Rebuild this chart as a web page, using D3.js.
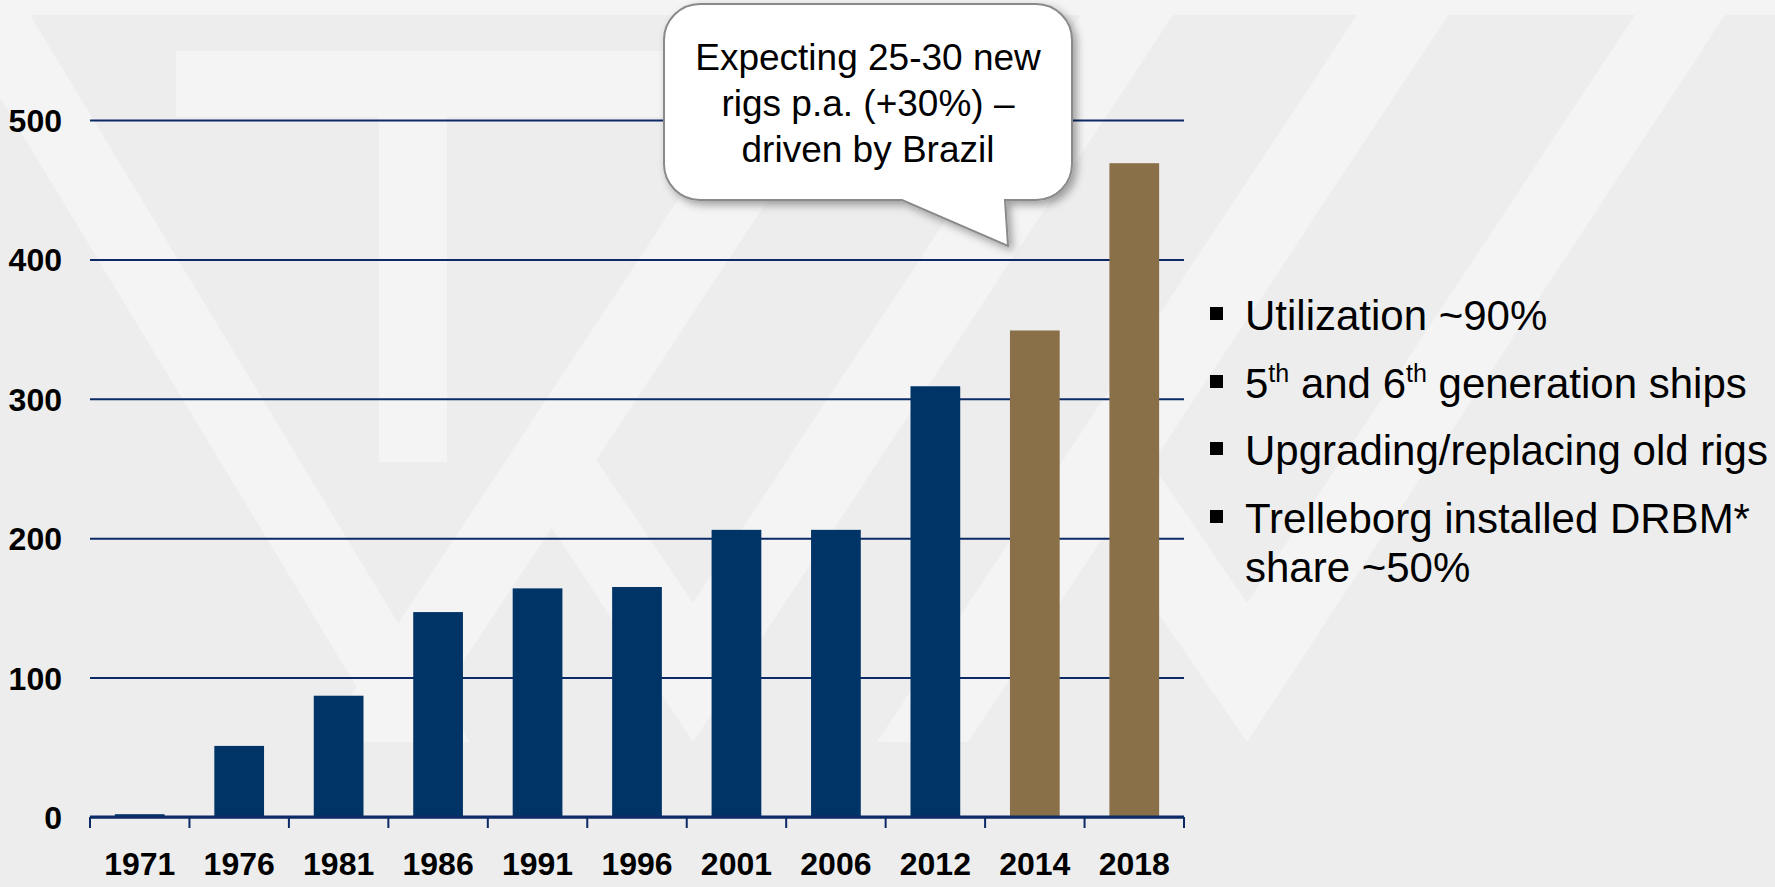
<!DOCTYPE html>
<html lang="en">
<head>
    <meta charset="UTF-8">
    <title>Rigs chart</title>
    <script src="https://cdn.jsdelivr.net/npm/d3@7"></script>
    <style>
        body { margin: 0; background: #ededed; }
        svg { display: block; }
        .axis text { font-family: "Liberation Sans", Arial, sans-serif; font-weight: bold; font-size: 32px; fill: #000; }
        .grid line { stroke: #0b2a66; stroke-width: 2; }
        .note { font-family: "Liberation Sans", Arial, sans-serif; fill: #000; }
    </style>
</head>
<body>
<script>
	// data
	var years = ["1971", "1976", "1981", "1986", "1991", "1996", "2001", "2006", "2012", "2014", "2018"];
	var rigs = [2, 51, 87, 147, 164, 165, 206, 206, 309, 349, 469];
	var phase = ["actual", "actual", "actual", "actual", "actual", "actual", "actual", "actual", "actual", "forecast", "forecast"];
	var yTicks = [0, 100, 200, 300, 400, 500];
	var calloutLines = ["Expecting 25-30 new", "rigs p.a. (+30%) \u2013", "driven by Brazil"];
	var bullets = [
		[["Utilization ~90%"]],
		[["5"], ["th", "sup"], [" and 6"], ["th", "sup"], [" generation ships"]],
		[["Upgrading/replacing old rigs"]],
		[["Trelleborg installed DRBM*"]],
		[["share ~50%"]]
	];

	var width = 1775;
	var height = 887;
	var svg = d3.select("body")
		.append("svg")
		.attr("width", width)
		.attr("height", height);

	// faint watermark in the background
	var bg = svg.append("g").attr("fill", "#f4f4f4");
	bg.append("rect").attr("x", 0).attr("y", 0).attr("width", width).attr("height", 15);
	var shapes = [
		[[176, 51], [740, 51], [740, 117], [447, 117], [447, 462], [379, 462], [379, 117], [176, 117]],
		[[-50, 15], [30, 15], [470, 742], [390, 742]],
		[[800, 15], [890, 15], [410, 742], [320, 742]],
		[[507, 460], [597, 461], [693, 603], [693, 742]],
		[[693, 742], [693, 603], [1081, 15], [1173, 15]],
		[[1357, 15], [1448, 15], [968, 742], [877, 742]],
		[[1058, 468], [1152, 464], [1247, 603], [1247, 742]],
		[[1247, 742], [1247, 603], [1635, 15], [1725, 15]]
	];
	bg.selectAll("polygon")
		.data(shapes)
		.enter()
		.append("polygon")
		.attr("points", function (d) { return d.join(" "); });

	// scales
	var x = d3.scaleBand()
		.domain(years)
		.range([90, 1184])
		.paddingInner(0.5)
		.paddingOuter(0.25);
	var y = d3.scaleLinear()
		.domain([0, 500])
		.range([817, 120]);
	var color = d3.scaleOrdinal()
		.domain(["actual", "forecast"])
		.range(["#013466", "#8a7048"]);

	// y axis with gridlines
	var yAxis = d3.axisLeft(y)
		.tickValues(yTicks)
		.tickSize(-(1184 - 90))
		.tickPadding(28)
		.tickFormat(d3.format("d"));
	svg.append("g")
		.attr("class", "axis grid")
		.attr("transform", "translate(90,0)")
		.call(yAxis)
		.call(function (g) { g.select(".domain").remove(); })
		.selectAll("text")
		.attr("dy", "0.36em");

	// bars
	svg.selectAll(".bar")
		.data(rigs)
		.enter()
		.append("rect")
		.attr("class", "bar")
		.attr("x", function (d, i) { return x(years[i]); })
		.attr("y", function (d) { return y(d); })
		.attr("width", x.bandwidth())
		.attr("height", function (d) { return y(0) - y(d); })
		.attr("fill", function (d, i) { return color(phase[i]); });

	// x axis: labels at band centres, ticks on band boundaries
	var xAxis = d3.axisBottom(x).tickSize(0).tickPadding(0);
	var gx = svg.append("g")
		.attr("class", "axis")
		.attr("transform", "translate(0," + y(0) + ")")
		.call(xAxis);
	gx.select(".domain").remove();
	gx.selectAll("text").attr("y", 58).attr("dy", 0);
	gx.append("line")
		.attr("x1", 90).attr("x2", 1184)
		.attr("stroke", "#0b2a66").attr("stroke-width", 3);
	gx.selectAll(".edge")
		.data(d3.range(years.length + 1))
		.enter()
		.append("line")
		.attr("class", "edge")
		.attr("x1", function (i) { return 90 + i * x.step(); })
		.attr("x2", function (i) { return 90 + i * x.step(); })
		.attr("y1", 0).attr("y2", 11)
		.attr("stroke", "#0b2a66").attr("stroke-width", 2);

	// callout bubble
	var defs = svg.append("defs");
	var f = defs.append("filter").attr("id", "shadow")
		.attr("x", "-10%").attr("y", "-10%").attr("width", "130%").attr("height", "130%");
	f.append("feDropShadow").attr("dx", 4).attr("dy", 4).attr("stdDeviation", 4)
		.attr("flood-color", "#000").attr("flood-opacity", 0.35);

	var bx0 = 664, bx1 = 1072, by0 = 4, by1 = 200, r = 36;
	var p = d3.path();
	p.moveTo(bx0 + r, by0);
	p.lineTo(bx1 - r, by0);
	p.arcTo(bx1, by0, bx1, by0 + r, r);
	p.lineTo(bx1, by1 - r);
	p.arcTo(bx1, by1, bx1 - r, by1, r);
	p.lineTo(1005, by1);
	p.lineTo(1008, 246);
	p.lineTo(902, by1);
	p.lineTo(bx0 + r, by1);
	p.arcTo(bx0, by1, bx0, by1 - r, r);
	p.lineTo(bx0, by0 + r);
	p.arcTo(bx0, by0, bx0 + r, by0, r);
	p.closePath();
	svg.append("path")
		.attr("d", p.toString())
		.attr("fill", "#fff")
		.attr("stroke", "#8a8a8a")
		.attr("stroke-width", 2)
		.attr("filter", "url(#shadow)");

	svg.selectAll(".callout")
		.data(calloutLines)
		.enter()
		.append("text")
		.attr("class", "note callout")
		.attr("x", (bx0 + bx1) / 2)
		.attr("y", function (d, i) { return 70 + i * 46; })
		.attr("text-anchor", "middle")
		.attr("font-size", 37)
		.text(function (d) { return d; });

	// bullet list on the right
	var lineY = [330, 398, 465, 533, 582];
	var hasBullet = [true, true, true, true, false];
	bullets.forEach(function (parts, i) {
		if (hasBullet[i]) {
			svg.append("rect")
				.attr("x", 1210).attr("y", lineY[i] - 23)
				.attr("width", 13).attr("height", 13)
				.attr("fill", "#000");
		}
		var t = svg.append("text")
			.attr("class", "note")
			.attr("x", 1245)
			.attr("y", lineY[i])
			.attr("font-size", 42);
		parts.forEach(function (pt) {
			var s = t.append("tspan").text(pt[0]);
			if (pt[1] === "sup") {
				s.attr("font-size", 25).attr("baseline-shift", "65%");
			}
		});
	});
</script>
</body>
</html>
